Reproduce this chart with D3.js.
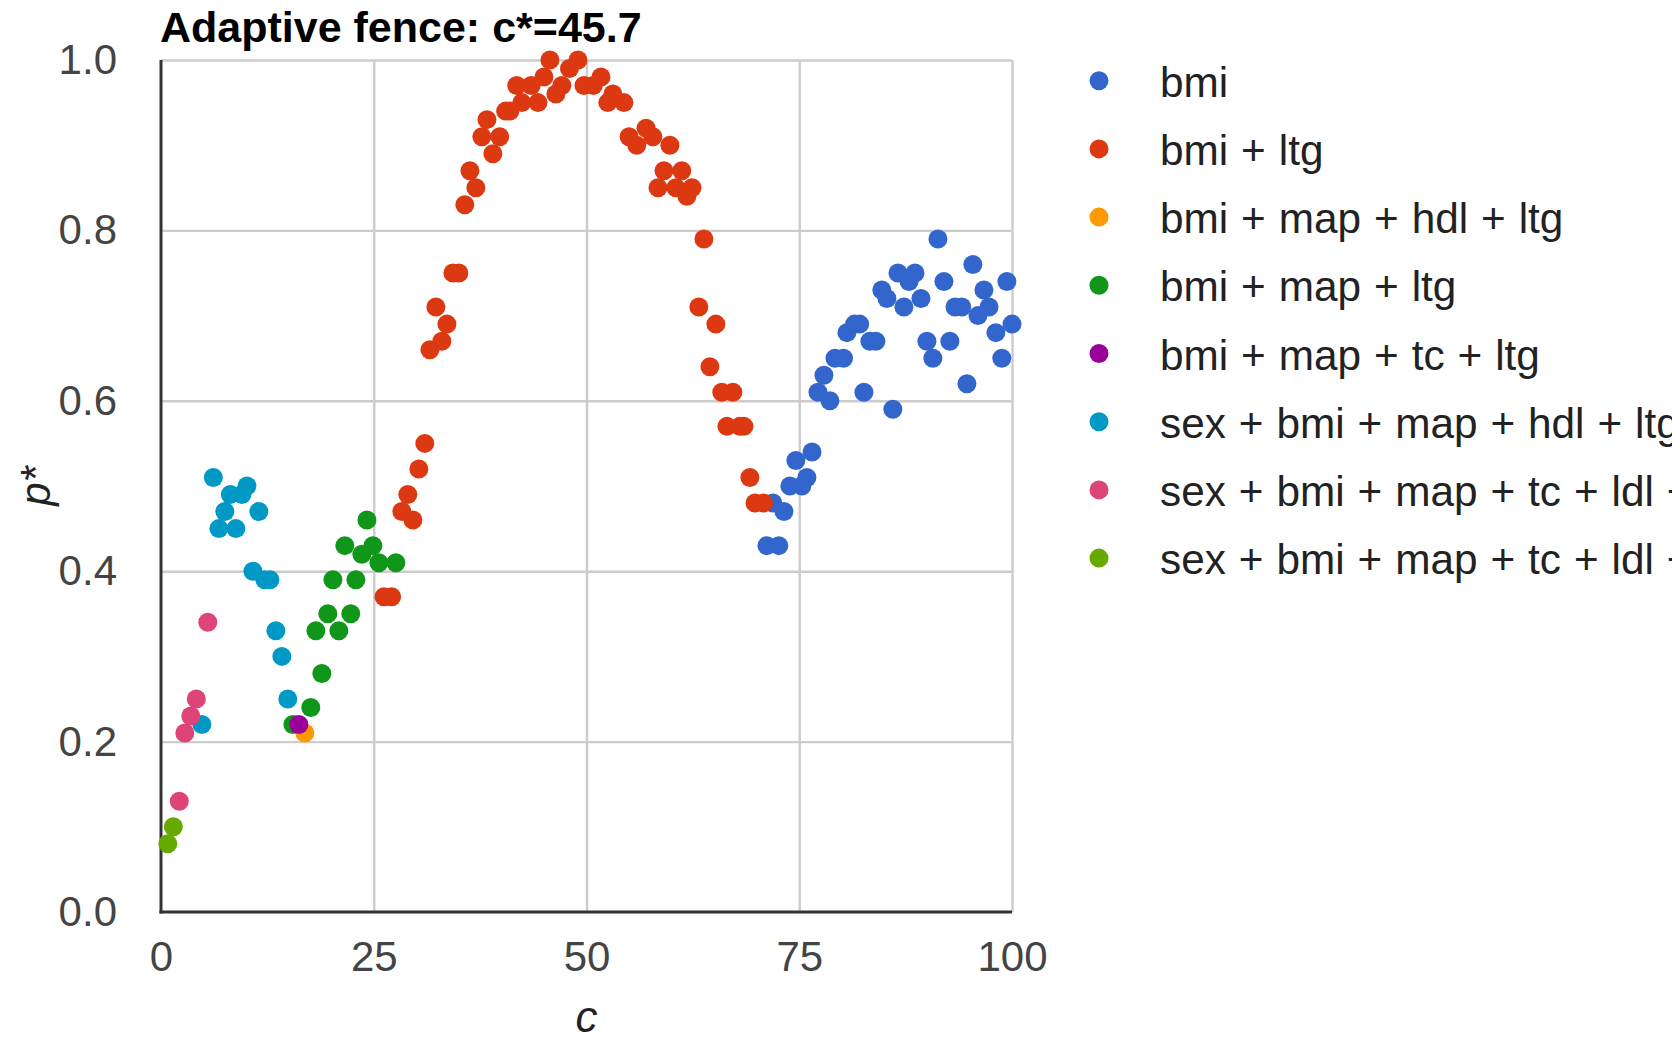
<!DOCTYPE html>
<html>
<head>
<meta charset="utf-8">
<script src="https://cdn.jsdelivr.net/npm/d3@7/dist/d3.min.js"></script>
<style>
  html, body { margin: 0; padding: 0; background: #ffffff; }
  svg { display: block; font-family: "Liberation Sans", Arial, Helvetica, sans-serif; }
</style>
</head>
<body>
<svg id="chart" width="1672" height="1038"></svg>
<script>
// Selected model at each fence value c, with its selection probability p*
const modelNames = [
  "bmi",
  "bmi + ltg",
  "bmi + map + hdl + ltg",
  "bmi + map + ltg",
  "bmi + map + tc + ltg",
  "sex + bmi + map + hdl + ltg",
  "sex + bmi + map + tc + ldl + ltg",
  "sex + bmi + map + tc + ldl + hdl + ltg"
];
const modelColors = ["#3366cc", "#dc3912", "#ff9900", "#109618", "#990099", "#0099c6", "#dd4477", "#66aa00"];

const cBmi = [71.2, 71.9, 72.6, 73.2, 73.9, 74.6, 75.3, 75.9, 76.5, 77.2, 77.9, 78.6, 79.2, 80.2, 80.6, 81.5, 82.1, 82.6, 83.3, 84.0, 84.7, 85.3, 86.0, 86.6, 87.3, 87.9, 88.6, 89.3, 90.0, 90.7, 91.3, 92.0, 92.7, 93.3, 94.1, 94.7, 95.4, 96.0, 96.7, 97.3, 98.1, 98.8, 99.4, 100.0];
const pBmi = [0.43, 0.48, 0.43, 0.47, 0.50, 0.53, 0.50, 0.51, 0.54, 0.61, 0.63, 0.60, 0.65, 0.65, 0.68, 0.69, 0.69, 0.61, 0.67, 0.67, 0.73, 0.72, 0.59, 0.75, 0.71, 0.74, 0.75, 0.72, 0.67, 0.65, 0.79, 0.74, 0.67, 0.71, 0.71, 0.62, 0.76, 0.70, 0.73, 0.71, 0.68, 0.65, 0.74, 0.69];

const cBmiLtg = [26.2, 27.1, 28.3, 29.0, 29.6, 30.3, 31.0, 31.6, 32.3, 33.0, 33.6, 34.3, 35.0, 35.7, 36.3, 37.0, 37.7, 38.3, 39.0, 39.8, 40.5, 41.0, 41.8, 42.4, 43.5, 44.3, 45.0, 45.7, 46.4, 47.1, 48.0, 49.0, 49.7, 50.8, 51.7, 52.5, 53.1, 54.4, 55.0, 55.9, 57.0, 57.8, 58.4, 59.1, 59.8, 60.5, 61.2, 61.8, 62.4, 63.2, 63.8, 64.5, 65.2, 65.9, 66.5, 67.2, 68.0, 68.5, 69.2, 69.8, 70.8];
const pBmiLtg = [0.37, 0.37, 0.47, 0.49, 0.46, 0.52, 0.55, 0.66, 0.71, 0.67, 0.69, 0.75, 0.75, 0.83, 0.87, 0.85, 0.91, 0.93, 0.89, 0.91, 0.94, 0.94, 0.97, 0.95, 0.97, 0.95, 0.98, 1.00, 0.96, 0.97, 0.99, 1.00, 0.97, 0.97, 0.98, 0.95, 0.96, 0.95, 0.91, 0.90, 0.92, 0.91, 0.85, 0.87, 0.90, 0.85, 0.87, 0.84, 0.85, 0.71, 0.79, 0.64, 0.69, 0.61, 0.57, 0.61, 0.57, 0.57, 0.51, 0.48, 0.48];

const cBmiMapHdlLtg = [16.9];
const pBmiMapHdlLtg = [0.21];

const cBmiMapLtg = [15.5, 17.6, 18.2, 18.9, 19.6, 20.2, 20.9, 21.6, 22.3, 22.9, 23.6, 24.2, 24.9, 25.6, 27.6];
const pBmiMapLtg = [0.22, 0.24, 0.33, 0.28, 0.35, 0.39, 0.33, 0.43, 0.35, 0.39, 0.42, 0.46, 0.43, 0.41, 0.41];

const cBmiMapTcLtg = [16.2];
const pBmiMapTcLtg = [0.22];

const cSexBmiMapHdlLtg = [4.8, 6.15, 6.8, 7.5, 8.15, 8.8, 9.5, 10.1, 10.8, 11.5, 12.2, 12.8, 13.5, 14.2, 14.9];
const pSexBmiMapHdlLtg = [0.22, 0.51, 0.45, 0.47, 0.49, 0.45, 0.49, 0.50, 0.40, 0.47, 0.39, 0.39, 0.33, 0.30, 0.25];

const cSexBmiMapTcLdl = [2.15, 2.8, 3.5, 4.15, 5.5];
const pSexBmiMapTcLdl = [0.13, 0.21, 0.23, 0.25, 0.34];

const cSexBmiMapTcLdlHdl = [0.8, 1.45];
const pSexBmiMapTcLdlHdl = [0.08, 0.10];

const xTickValues = [0, 25, 50, 75, 100];
const yTickValues = [0, 0.2, 0.4, 0.6, 0.8, 1.0];
const titleText = "Adaptive fence: c*=45.7";

const seriesC = [cBmi, cBmiLtg, cBmiMapHdlLtg, cBmiMapLtg, cBmiMapTcLtg, cSexBmiMapHdlLtg, cSexBmiMapTcLdl, cSexBmiMapTcLdlHdl];
const seriesP = [pBmi, pBmiLtg, pBmiMapHdlLtg, pBmiMapLtg, pBmiMapTcLtg, pSexBmiMapHdlLtg, pSexBmiMapTcLdl, pSexBmiMapTcLdlHdl];

const series = modelNames.map((name, i) => ({
  name,
  color: modelColors[i],
  points: seriesC[i].map((c, j) => ({ c, p: seriesP[i][j] }))
}));

// Layout
const plot = { left: 161, right: 1012, top: 60, bottom: 912 };
const svg = d3.select("#chart");

svg.append("rect").attr("width", 1672).attr("height", 1038).attr("fill", "#ffffff");

const x = d3.scaleLinear().domain([0, 100]).range([plot.left, plot.right]);
const y = d3.scaleLinear().domain([0, 1]).range([plot.bottom, plot.top]);

// Grid lines
const gridX = svg.append("g")
  .attr("transform", `translate(0,${plot.bottom})`)
  .call(d3.axisBottom(x).tickValues(xTickValues.slice(1)).tickSize(-(plot.bottom - plot.top)).tickFormat(""));
const gridY = svg.append("g")
  .attr("transform", `translate(${plot.left},0)`)
  .call(d3.axisLeft(y).tickValues(yTickValues.slice(1)).tickSize(-(plot.right - plot.left)).tickFormat(""));
[gridX, gridY].forEach(g => {
  g.select(".domain").remove();
  g.selectAll("line").attr("stroke", "#cccccc").attr("stroke-width", 2.4);
});

// Tick labels
const tickFont = 42;
const xAxis = svg.append("g")
  .attr("transform", `translate(0,${plot.bottom})`)
  .call(d3.axisBottom(x).tickValues(xTickValues).tickSize(0).tickPadding(29).tickFormat(d3.format("d")));
const yAxis = svg.append("g")
  .attr("transform", `translate(${plot.left},0)`)
  .call(d3.axisLeft(y).tickValues(yTickValues).tickSize(0).tickPadding(44).tickFormat(d3.format(".1f")));
[xAxis, yAxis].forEach(g => {
  g.select(".domain").remove();
  g.selectAll("text")
    .attr("font-family", "'Liberation Sans', Arial, Helvetica, sans-serif")
    .attr("font-size", tickFont)
    .attr("fill", "#444444");
});

// Left and bottom spines
svg.append("line")
  .attr("x1", plot.left).attr("x2", plot.left)
  .attr("y1", plot.top).attr("y2", plot.bottom + 1.5)
  .attr("stroke", "#333333").attr("stroke-width", 3);
svg.append("line")
  .attr("x1", plot.left - 1.5).attr("x2", plot.right)
  .attr("y1", plot.bottom).attr("y2", plot.bottom)
  .attr("stroke", "#333333").attr("stroke-width", 3);

// Points, one group per model
const markR = 9.5;
svg.append("g").selectAll("g")
  .data(series)
  .join("g")
  .attr("fill", d => d.color)
  .selectAll("circle")
  .data(d => d.points)
  .join("circle")
  .attr("cx", d => x(d.c))
  .attr("cy", d => y(d.p))
  .attr("r", markR);

// Axis titles
svg.append("text")
  .attr("x", (plot.left + plot.right) / 2)
  .attr("y", 1032)
  .attr("text-anchor", "middle")
  .attr("font-size", 44)
  .attr("font-style", "italic")
  .attr("fill", "#222222")
  .text("c");
svg.append("text")
  .attr("transform", `translate(50,${(plot.top + plot.bottom) / 2}) rotate(-90)`)
  .attr("text-anchor", "middle")
  .attr("font-size", 42)
  .attr("font-style", "italic")
  .attr("fill", "#222222")
  .text("p*");

// Title
svg.append("text")
  .attr("x", 160)
  .attr("y", 42)
  .attr("font-size", 43)
  .attr("font-weight", "bold")
  .attr("fill", "#000000")
  .text(titleText);

// Legend
const legend = svg.append("g");
const legendRow = 68.2;
const legendItems = legend.selectAll("g")
  .data(series)
  .join("g")
  .attr("transform", (d, i) => `translate(1099,${80.7 + i * legendRow})`);
legendItems.append("circle")
  .attr("r", 9.5)
  .attr("fill", d => d.color);
legendItems.append("text")
  .attr("x", 61)
  .attr("y", 16)
  .attr("font-size", 42.3)
  .attr("word-spacing", 1.2)
  .attr("fill", "#222222")
  .text(d => d.name);
</script>
</body>
</html>
